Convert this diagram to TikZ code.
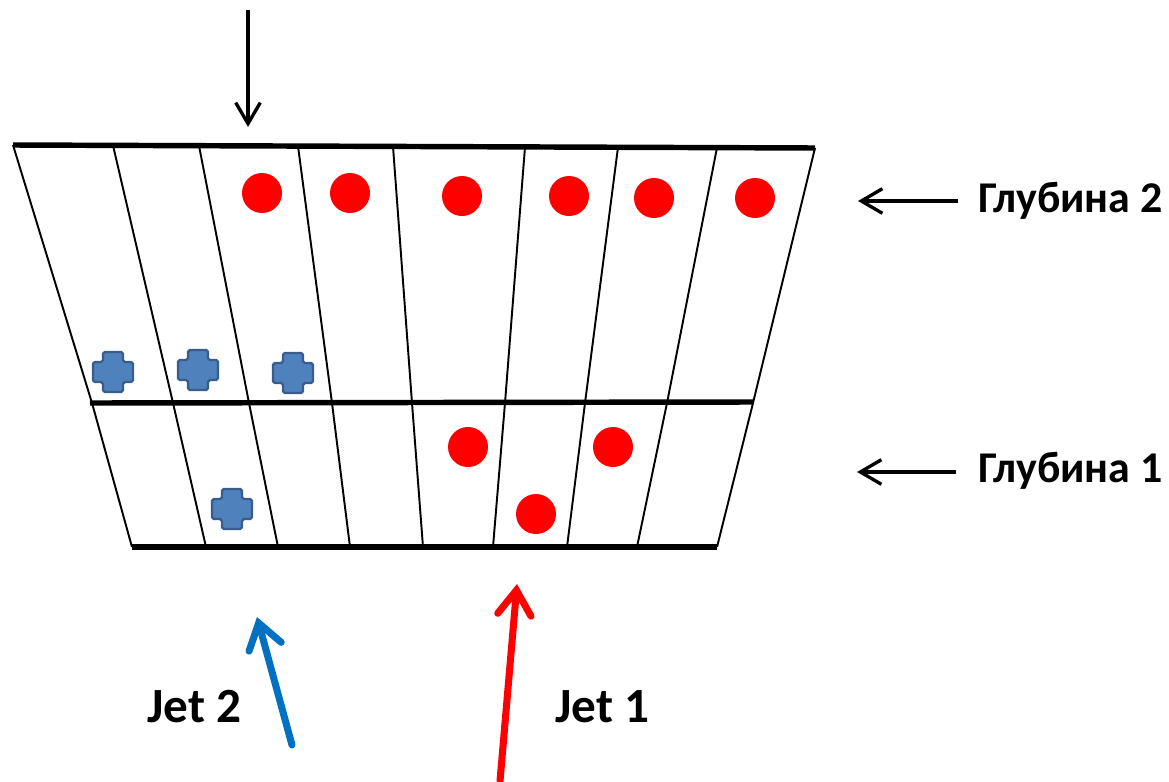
\documentclass[tikz,border=0pt]{standalone}
\usepackage{fontspec}
\setmainfont{Carlito}
\usetikzlibrary{arrows.meta}
\definecolor{jetred}{RGB}{255,0,0}
\definecolor{jetblue}{RGB}{0,112,192}
\definecolor{crossfill}{RGB}{79,129,189}
\definecolor{crossdraw}{RGB}{56,93,140}
\tikzset{
  thinline/.style={line width=1.1pt},
  thickline/.style={line width=3.1pt},
  reddot/.style={circle, fill=jetred, inner sep=0pt, minimum size=40*0.02cm},
  lbl/.style={font=\fontsize{25}{30}\selectfont\bfseries, inner sep=0pt, anchor=base west},
  jetlbl/.style={font=\fontsize{28}{33}\selectfont\bfseries, inner sep=0pt, anchor=base west},
  blackarrow/.style={line width=1.9pt, -{Straight Barb[length=12pt,width=14pt]}},
  jetarrow/.style={line width=4pt, line cap=round, -{Straight Barb[length=14pt,width=19pt,line cap=round]}},
  pics/bluecross/.style={code={
    \draw[crossdraw, fill=crossfill, line width=1.4pt, rounded corners=1pt]
      (-10,-20) -- (10,-20) -- (10,-10) -- (20,-10) -- (20,10) -- (10,10) -- (10,20)
      -- (-10,20) -- (-10,10) -- (-20,10) -- (-20,-10) -- (-10,-10) -- cycle;
  }}
}
\begin{document}
\begin{tikzpicture}[x=0.02cm, y=-0.02cm]
\path[use as bounding box] (0,0) rectangle (1169,781);

% horizontal layer lines
\coordinate (TL) at (13,145);  \coordinate (TR) at (815,148);
\coordinate (ML) at (90,403);  \coordinate (MR) at (753,402);
\coordinate (BL) at (132,547); \coordinate (BR) at (717,547);

% upper layer dividers (top x / middle x)
\foreach \a/\b in {13/92,113/173,199/249,298/332,393/412,525/505,618/585,717/667,815/753}{
  \draw[thinline] (\a,{145+3*(\a-13)/802}) -- (\b,403);
}
% lower layer dividers (middle x / bottom x)
\foreach \a/\b in {92/132,173/206,249/278,332/350,412/423,505/493,585/567,667/637,753/717}{
  \draw[thinline] (\a,403) -- (\b,547);
}
\draw[thickline] (TL) -- (TR);
\draw[thickline] (ML) -- (MR);
\draw[thickline] (BL) -- (BR);

% red dots
\foreach \x/\y [count=\i] in {262/193,350/193,462/196,569/196,654/198,755/198,468/447,536/514,613/447}{
  \node[reddot] (r\i) at (\x,\y) {};
}
% blue crosses
\foreach \x/\y in {113/372,198/370,293/373,232/509}{
  \pic at (\x,\y) {bluecross};
}

% top arrow
\coordinate (topstart) at (248,10);
\coordinate (topend) at (248,127);
\draw[blackarrow] (topstart) -- (topend);

% depth labels
\node[lbl] (g2) at (978,212) {Глубина 2};
\node[lbl] (g1) at (978,482) {Глубина 1};
\coordinate (g2tip) at (858,201);
\coordinate (g1tip) at (857,472);
\draw[blackarrow] (958,201) coordinate (g2s) -- (g2tip);
\draw[blackarrow] (956,472) coordinate (g1s) -- (g1tip);

% jets
\coordinate (j2s) at (292,745); \coordinate (j2e) at (257,617);
\coordinate (j1s) at (500,781); \coordinate (j1e) at (517,584);
\draw[jetarrow, jetblue] (j2s) -- (j2e);
\draw[jetarrow, jetred] (j1s) -- (j1e);
\node[jetlbl] (jet2) at (147,722) {Jet 2};
\node[jetlbl] (jet1) at (555,722) {Jet 1};
\end{tikzpicture}
\end{document}
